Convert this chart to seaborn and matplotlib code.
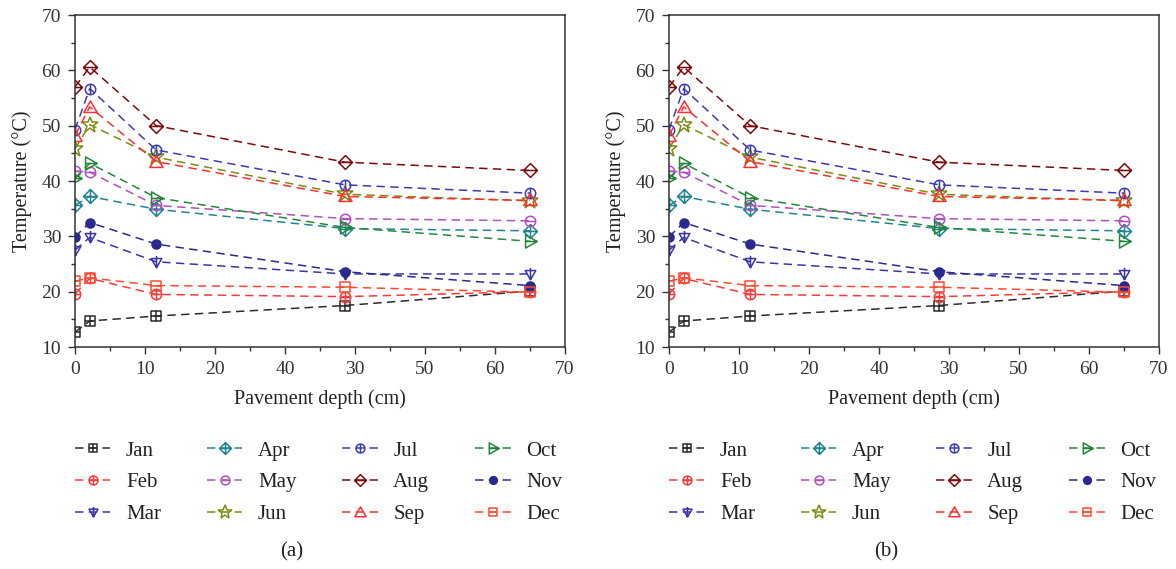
import numpy as np
import pandas as pd
import matplotlib
matplotlib.use("Agg")
import matplotlib.pyplot as plt
from matplotlib.path import Path
from matplotlib.ticker import MultipleLocator, FixedLocator, FixedFormatter
import seaborn as sns

# ---- data -------------------------------------------------------------
depth = [0, 2.1, 11.6, 38.6, 65]
months = ["Jan", "Feb", "Mar", "Apr", "May", "Jun",
          "Jul", "Aug", "Sep", "Oct", "Nov", "Dec"]

jan = [12.7, 14.7, 15.6, 17.5, 20.1]
feb = [19.6, 22.4, 19.5, 19.1, 20.0]
mar = [27.5, 29.8, 25.4, 23.2, 23.2]
apr = [35.6, 37.2, 34.9, 31.4, 31.0]
may = [41.8, 41.6, 35.6, 33.2, 32.8]
jun = [45.8, 50.2, 44.3, 37.6, 36.4]
jul = [49.3, 56.7, 45.6, 39.3, 37.8]
aug = [57.0, 60.6, 50.0, 43.4, 41.9]
sep = [48.2, 53.4, 43.5, 37.2, 36.5]
oct_ = [40.5, 43.2, 37.0, 31.6, 29.1]
nov = [29.9, 32.5, 28.6, 23.6, 21.1]
dec = [21.9, 22.5, 21.1, 20.8, 19.9]

series = [jan, feb, mar, apr, may, jun, jul, aug, sep, oct_, nov, dec]

xtick_values = [0, 10, 20, 30, 40, 50, 60, 70]
xtick_labels = ["0", "10", "20", "40", "30", "50", "60", "70"]
panel_tags = ["(a)", "(b)"]

# ---- styling ----------------------------------------------------------
colors = {
    "Jan": "#2b2b2b", "Feb": "#f23c3c", "Mar": "#3a36a6", "Apr": "#1f8592",
    "May": "#b24fbf", "Jun": "#7f8a10", "Jul": "#3c3cb0", "Aug": "#7d0a0a",
    "Sep": "#ff2f2f", "Oct": "#23873a", "Nov": "#2a2a8e", "Dec": "#ff4a30",
}


def seg(x0, y0, x1, y1):
    return Path([(x0, y0), (x1, y1)], [Path.MOVETO, Path.LINETO])


def poly(pts):
    pts = list(pts) + [pts[0]]
    codes = [Path.MOVETO] + [Path.LINETO] * (len(pts) - 2) + [Path.CLOSEPOLY]
    return Path(pts, codes)


circle = Path.unit_circle()
square = poly([(-1, -1), (1, -1), (1, 1), (-1, 1)])
diamond = poly([(0, 1), (1, 0), (0, -1), (-1, 0)])
tri_up = poly([(0, 1), (1, -0.75), (-1, -0.75)])
tri_down = poly([(0, -1), (1, 0.75), (-1, 0.75)])
tri_right = poly([(1, 0), (-0.75, 1), (-0.75, -1)])
hline = seg(-1, 0, 1, 0)
vline = seg(0, -1, 0, 1)

cp = Path.make_compound_path
markers = {
    "Jan": cp(square, hline, vline),
    "Feb": cp(circle, hline, vline),
    "Mar": cp(tri_down, seg(0, -1, 0, 1.25)),
    "Apr": cp(diamond, hline, vline),
    "May": cp(circle, hline),
    "Jun": "*",
    "Jul": cp(circle, vline),
    "Aug": cp(diamond, hline),
    "Sep": tri_up,
    "Oct": cp(tri_right, seg(-0.75, 0, 1, 0)),
    "Nov": "o",
    "Dec": cp(square, hline),
}
msizes = {
    "Jan": 6.5, "Feb": 7.5, "Mar": 9.5, "Apr": 10, "May": 7.5, "Jun": 12,
    "Jul": 7.5, "Aug": 10, "Sep": 9.5, "Oct": 9.5, "Nov": 6.5, "Dec": 7.5,
}

sns.set_theme(style="ticks")
plt.rcParams["font.family"] = ["Liberation Serif", "DejaVu Serif"]
plt.rcParams["axes.edgecolor"] = "#333333"
plt.rcParams["axes.linewidth"] = 1.1
plt.rcParams["xtick.color"] = "#333333"
plt.rcParams["ytick.color"] = "#333333"
plt.rcParams["text.color"] = "#222222"
plt.rcParams["axes.labelcolor"] = "#222222"

df = pd.DataFrame(
    [(m, d, t) for m, vals in zip(months, series) for d, t in zip(depth, vals)],
    columns=["month", "depth", "temp"],
)

W, H = 1176, 569
fig = plt.figure(figsize=(W / 100, H / 100), dpi=100)

panel_left = [75, 669]
ax_w, ax_top, ax_bot = 490, 15, 347

for pl, tag in zip(panel_left, panel_tags):
    ax = fig.add_axes([pl / W, 1 - ax_bot / H, ax_w / W, (ax_bot - ax_top) / H])
    handles = []
    for m in months:
        sub = df[df["month"] == m]
        filled = m == "Nov"
        sns.lineplot(
            data=sub, x="depth", y="temp", ax=ax, sort=False, errorbar=None,
            color=colors[m], linestyle=(0, (5.5, 3.5)), linewidth=1.1,
            marker=markers[m], markersize=msizes[m],
            markerfacecolor=colors[m] if filled else "none",
            markeredgecolor=colors[m], markeredgewidth=1.1,
            label=m, legend=False,
        )
        handles.append(ax.get_lines()[-1])

    ax.set_xlim(0, 70)
    ax.set_ylim(10, 70)
    ax.xaxis.set_major_locator(FixedLocator(xtick_values))
    ax.xaxis.set_major_formatter(FixedFormatter(xtick_labels))
    ax.xaxis.set_minor_locator(MultipleLocator(5))
    ax.yaxis.set_major_locator(MultipleLocator(10))
    ax.yaxis.set_minor_locator(MultipleLocator(5))
    ax.tick_params(which="both", direction="out", top=False, right=False,
                   labelsize=14, width=1.0)
    ax.tick_params(which="major", length=5, pad=5)
    ax.tick_params(which="minor", length=3)
    for s in ax.spines.values():
        s.set_visible(True)
    ax.set_xlabel("Pavement depth (cm)", fontsize=14.5, labelpad=8)
    ax.set_ylabel("Temperature (°C)", fontsize=14.5, labelpad=7)

    ax.legend(
        handles, months, ncol=4, frameon=False, fontsize=15,
        loc="upper left", bbox_to_anchor=(pl / W, 1 - 441 / H),
        bbox_transform=fig.transFigure, borderpad=0, borderaxespad=0,
        handlelength=1.7, handletextpad=0.75, columnspacing=2.2,
        labelspacing=0.58, markerscale=0.85,
    )
    fig.text((pl + ax_w / 2 - 28) / W, 1 - 552 / H, tag, fontsize=15,
             ha="center", va="center")

fig.savefig("out.png", dpi=100)
